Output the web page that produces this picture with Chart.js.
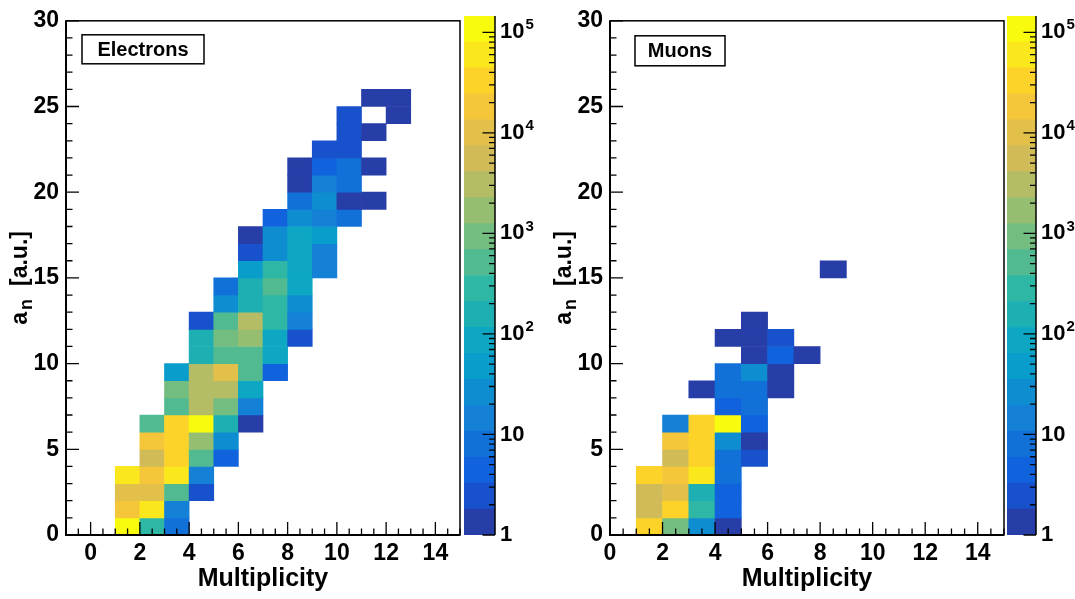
<!DOCTYPE html>
<html><head><meta charset="utf-8">
<script src="https://cdn.jsdelivr.net/npm/chart.js@4.4.1/dist/chart.umd.min.js"></script>
<style>
html,body{margin:0;padding:0;background:#fff;}
#wrap{position:relative;width:1075px;height:599px;overflow:hidden;background:#fff}
canvas{position:absolute;top:0}
</style></head><body>
<div id="wrap">
<canvas id="h1" width="462" height="599" style="left:0px"></canvas>
<canvas id="cb1" width="75" height="599" style="left:462px"></canvas>
<canvas id="h2" width="469" height="599" style="left:537px"></canvas>
<canvas id="cb2" width="69" height="599" style="left:1006px"></canvas>
</div>
<script>
// ---------------- data ----------------
const xTickValues = [0, 2, 4, 6, 8, 10, 12, 14];
const yTickValues = [0, 5, 10, 15, 20, 25, 30];
const colorbarTickValues = [1, 10, 100, 1000, 10000, 100000];

// Electrons: bin lower edges (multiplicity, a_n) and entries
const electronsX = [1,2,3, 1,2,3, 1,2,3,4, 1,2,3,4, 2,3,4,5, 2,3,4,5, 2,3,4,5,6, 3,4,5,6, 3,4,5,6, 3,4,5,6,7,
  4,5,6,7, 4,5,6,7,8, 4,5,6,7,8, 5,6,7,8, 5,6,7,8, 6,7,8,9, 6,7,8,9, 6,7,8,9, 7,8,9,10, 8,9,10,11, 8,9,10,
  8,9,10,11, 9,10, 10,11, 10,12, 11,12];
const electronsY = [0,0,0, 1,1,1, 2,2,2,2, 3,3,3,3, 4,4,4,4, 5,5,5,5, 6,6,6,6,6, 7,7,7,7, 8,8,8,8, 9,9,9,9,9,
  10,10,10,10, 11,11,11,11,11, 12,12,12,12,12, 13,13,13,13, 14,14,14,14, 15,15,15,15, 16,16,16,16, 17,17,17,17,
  18,18,18,18, 19,19,19,19, 20,20,20, 21,21,21,21, 22,22, 23,23, 24,24, 25,25];
const electronsN = [107000,283,8, 18100,59400,14, 10000,10000,513,2, 59400,18100,59400,14, 5521,32800,513,4,
  18100,32800,1683,26, 513,32800,107000,156,1, 513,3048,929,14, 929,3048,3048,86, 48,3048,10000,513,4,
  156,513,513,86, 156,929,1683,86,2, 2,513,3048,283,14, 26,156,283,26, 8,156,513,86, 48,283,86,14,
  2,26,86,14, 1,26,86,48, 4,26,14,8, 8,26,1,1, 1,14,8, 1,4,8,1, 2,2, 2,1, 2,1, 1,1];

// Muons
const muonsX = [1,2,3,4, 1,2,3,4, 1,2,3,4, 1,2,3,4, 2,3,4,5, 2,3,4,5, 2,3,4,5, 4,5, 3,4,5,6, 4,5,6, 5,6,7, 4,5,6, 5, 8];
const muonsY = [0,0,0,0, 1,1,1,1, 2,2,2,2, 3,3,3,3, 4,4,4,4, 5,5,5,5, 6,6,6,6, 7,7, 8,8,8,8, 9,9,9, 10,10,10, 11,11,11, 12, 15];
const muonsN = [32800,929,26,1, 5521,32800,283,4, 5521,10000,156,4, 32800,18100,59400,8, 5521,32800,8,2,
  18100,32800,26,1, 14,32800,107000,4, 4,8, 1,8,8,1, 8,26,1, 1,4,1, 1,1,2, 1, 1];

// ---------------- palette (ROOT kBird, 20 contour levels, log z) ----------------
const NBANDS = 20, LOGMAX = 5.162;
const birdStops = [0, .125, .25, .375, .5, .625, .75, .875, 1];
const birdR = [0.2082,0.0592,0.0780,0.0232,0.1802,0.5301,0.8186,0.9956,0.9764];
const birdG = [0.1664,0.3599,0.5041,0.6419,0.7178,0.7492,0.7328,0.7862,0.9832];
const birdB = [0.5293,0.8684,0.8385,0.7914,0.6425,0.4662,0.3499,0.1968,0.0539];
function bird(t){
  let k = 0; while (k < birdStops.length-2 && t > birdStops[k+1]) k++;
  const f = (t - birdStops[k])/(birdStops[k+1]-birdStops[k]);
  const c = arr => Math.round(255*(arr[k] + f*(arr[k+1]-arr[k])));
  return 'rgb(' + c(birdR) + ',' + c(birdG) + ',' + c(birdB) + ')';
}
function bandColor(i){ const idx = Math.floor((i+0.99)*255/NBANDS); return bird(Math.min(1, idx/254)); }
function bandOf(n){ return Math.max(0, Math.min(NBANDS-1, Math.floor(Math.log10(n)/(LOGMAX/NBANDS)))); }

const FONT = '"Liberation Sans", Arial, Helvetica, sans-serif';

// ---------------- decoration plugins ----------------
const panelDeco = {
  id: 'panelDeco',
  afterDraw(chart, args, o){
    const ctx = chart.ctx, a = chart.chartArea, xs = chart.scales.x, ys = chart.scales.y;
    ctx.save();
    ctx.strokeStyle = '#000'; ctx.fillStyle = '#000';
    ctx.lineWidth = 1.3;
    ctx.beginPath();
    for (let v = xs.min; v <= xs.max + 1e-9; v += 0.5){
      const px = xs.getPixelForValue(v);
      const len = (Math.abs(v/2 - Math.round(v/2)) < 1e-9) ? 13 : 6.5;
      ctx.moveTo(px, a.bottom); ctx.lineTo(px, a.bottom - len);
    }
    for (let v = ys.min; v <= ys.max + 1e-9; v += 1){
      const py = ys.getPixelForValue(v);
      const len = (v % 5 === 0) ? 13 : 6.5;
      ctx.moveTo(a.left, py); ctx.lineTo(a.left + len, py);
    }
    ctx.stroke();
    // frame
    ctx.lineWidth = 1.5;
    ctx.strokeRect(a.left, a.top, a.right - a.left, a.bottom - a.top);
    ctx.lineWidth = 2;
    ctx.beginPath(); ctx.moveTo(a.left, a.top); ctx.lineTo(a.left, a.bottom); ctx.lineTo(a.right, a.bottom); ctx.stroke();
    // label box
    const bx = a.left + o.boxDx, by = a.top + o.boxDy;
    ctx.fillStyle = '#fff'; ctx.fillRect(bx, by, o.boxW, o.boxH);
    ctx.lineWidth = 1.5; ctx.strokeRect(bx, by, o.boxW, o.boxH);
    ctx.fillStyle = '#000';
    ctx.font = 'bold 20px ' + FONT; ctx.textAlign = 'center'; ctx.textBaseline = 'middle';
    ctx.fillText(o.label, bx + o.boxW/2, by + o.boxH/2 + 1);
    // x title
    ctx.font = 'bold 25px ' + FONT;
    ctx.fillText('Multiplicity', (a.left + a.right)/2, 579);
    // y title  a_n [a.u.]
    ctx.translate(o.yTitleX, (a.top + a.bottom)/2); ctx.rotate(-Math.PI/2);
    const big = 'bold 23px ' + FONT, small = 'bold 18px ' + FONT, gap = 13, pre = 2;
    ctx.font = big; const wa = ctx.measureText('a').width, wr = ctx.measureText('[a.u.]').width;
    ctx.font = small; const wn = ctx.measureText('n').width;
    let x = -(wa + pre + wn + gap + wr)/2;
    ctx.textAlign = 'left'; ctx.textBaseline = 'alphabetic';
    ctx.font = big; ctx.fillText('a', x, 7); x += wa + pre;
    ctx.font = small; ctx.fillText('n', x, 12); x += wn + gap;
    ctx.font = big; ctx.fillText('[a.u.]', x, 7);
    ctx.restore();
  }
};

const barDeco = {
  id: 'barDeco',
  afterDraw(chart){
    const ctx = chart.ctx, a = chart.chartArea, ys = chart.scales.y;
    ctx.save();
    ctx.strokeStyle = '#000'; ctx.fillStyle = '#000';
    ctx.lineWidth = 1.3;
    ctx.beginPath();
    for (let d = 0; d <= 6; d++){
      for (let m = 1; m <= 9; m++){
        const v = m * Math.pow(10, d);
        if (v > ys.max) break;
        const py = ys.getPixelForValue(v);
        const len = m === 1 ? 12.5 : 6;
        ctx.moveTo(a.right, py); ctx.lineTo(a.right - len, py);
      }
    }
    ctx.stroke();
    ctx.lineWidth = 1.5;
    ctx.beginPath(); ctx.moveTo(a.right, a.top); ctx.lineTo(a.right, a.bottom); ctx.stroke();
    ctx.textAlign = 'left'; ctx.textBaseline = 'middle';
    colorbarTickValues.forEach(v => {
      const py = ys.getPixelForValue(v);
      const e = Math.round(Math.log10(v));
      const x0 = a.right + 5;
      ctx.font = 'bold 22px ' + FONT;
      if (e === 0){ ctx.fillText('1', x0, py); }
      else if (e === 1){ ctx.fillText('10', x0, py); }
      else {
        ctx.fillText('10', x0, py);
        const w = ctx.measureText('10').width;
        ctx.font = 'bold 15px ' + FONT;
        ctx.fillText(String(e), x0 + w + 1, py - 7);
      }
    });
    ctx.restore();
  }
};

// ---------------- builders ----------------
function heatmap(id, X, Y, N, o){
  const data = X.map((x, i) => ({x: x + 0.5, y: [Y[i], Y[i] + 1]}));
  const colors = N.map(n => bandColor(bandOf(n)));
  const tickFont = {family: FONT, size: 23, weight: 'bold'};
  return new Chart(document.getElementById(id), {
    type: 'bar',
    data: {datasets: [{data, backgroundColor: colors, borderWidth: 0, barPercentage: 1, categoryPercentage: 1, grouped: false}]},
    options: {
      responsive: false, animation: false, events: [],
      layout: {padding: {left: 0, right: 2, top: 16, bottom: 0}},
      plugins: {legend: {display: false}, tooltip: {enabled: false}, panelDeco: o},
      scales: {
        x: {type: 'linear', min: o.xMin, max: o.xMax, offset: false,
            grid: {display: false, drawTicks: false, offset: false}, border: {display: false},
            afterBuildTicks: s => { s.ticks = xTickValues.map(v => ({value: v})); },
            afterFit: s => { s.height = 64; },
            ticks: {font: tickFont, color: '#000', padding: 5, maxRotation: 0, autoSkip: false}},
        y: {type: 'linear', min: 0, max: 30,
            grid: {display: false, drawTicks: false}, border: {display: false},
            afterBuildTicks: s => { s.ticks = yTickValues.map(v => ({value: v})); },
            afterFit: s => { s.width = o.yAxisW; },
            ticks: {font: tickFont, color: '#000', padding: 7, autoSkip: false}}
      }
    },
    plugins: [panelDeco]
  });
}

function colorbar(id, padLeft, axisW){
  const w = LOGMAX / NBANDS;
  const datasets = [];
  for (let i = 0; i < NBANDS; i++){
    datasets.push({data: [[Math.pow(10, i*w), Math.pow(10, (i+1)*w)]], backgroundColor: bandColor(i),
      borderWidth: 0, barPercentage: 1, categoryPercentage: 1, grouped: false});
  }
  return new Chart(document.getElementById(id), {
    type: 'bar',
    data: {labels: [''], datasets},
    options: {
      responsive: false, animation: false, events: [],
      layout: {padding: {left: padLeft, right: 0, top: 16, bottom: 64}},
      plugins: {legend: {display: false}, tooltip: {enabled: false}},
      scales: {
        x: {display: false},
        y: {type: 'logarithmic', position: 'right', min: 1, max: Math.pow(10, LOGMAX),
            grid: {display: false, drawTicks: false}, border: {display: false},
            ticks: {display: false}, afterFit: s => { s.width = axisW; }}
      }
    },
    plugins: [barDeco]
  });
}

heatmap('h1', electronsX, electronsY, electronsN,
  {xMin: -1, xMax: 15, yAxisW: 66, label: 'Electrons', boxDx: 16, boxDy: 14, boxW: 122, boxH: 29, yTitleX: 20});
colorbar('cb1', 2, 42);
heatmap('h2', muonsX, muonsY, muonsN,
  {xMin: 0, xMax: 15, yAxisW: 73, label: 'Muons', boxDx: 25, boxDy: 15, boxW: 90, boxH: 30, yTitleX: 27});
colorbar('cb2', 1, 39);
</script>
</body></html>
